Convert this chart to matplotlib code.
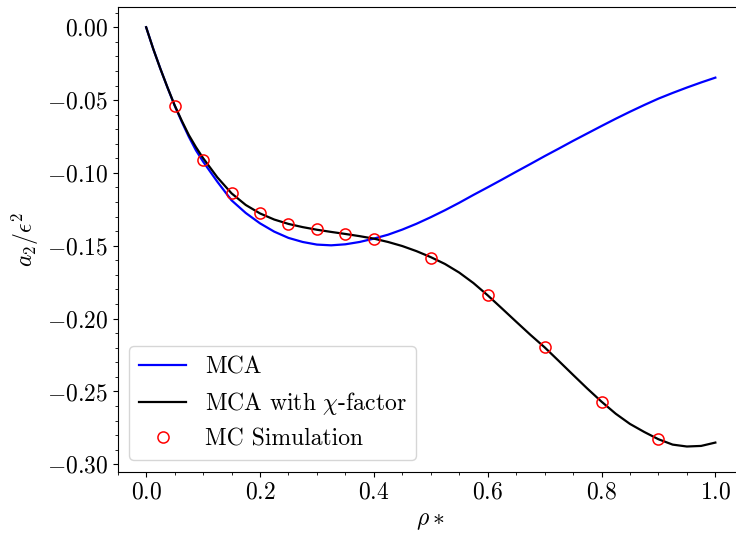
import numpy as np
import matplotlib
matplotlib.use('Agg')
import matplotlib.pyplot as plt
from matplotlib.ticker import MultipleLocator

plt.rcParams['font.family'] = 'serif'
plt.rcParams['font.serif'] = ['cmr10']
plt.rcParams['mathtext.fontset'] = 'cm'
plt.rcParams['axes.formatter.use_mathtext'] = True
plt.rcParams['font.size'] = 17

# density grid the two theory curves are tabulated on
rho = [0.0, 0.0125, 0.025, 0.0375, 0.05, 0.0625, 0.075, 0.0875, 0.1, 0.125, 0.15,
       0.175, 0.2, 0.225, 0.25, 0.275, 0.3, 0.325, 0.35, 0.375, 0.4, 0.425, 0.45,
       0.475, 0.5, 0.525, 0.55, 0.575, 0.6, 0.625, 0.65, 0.675, 0.7, 0.725, 0.75,
       0.775, 0.8, 0.825, 0.85, 0.875, 0.9, 0.925, 0.95, 0.975, 1.0]

# MCA
a2_mca = [0.0, -0.0149, -0.0285, -0.0414, -0.0537, -0.0648, -0.0752, -0.0845, -0.0922,
          -0.1060, -0.1188, -0.1275, -0.1346, -0.1403, -0.1446, -0.1474, -0.1492,
          -0.1497, -0.1490, -0.1474, -0.1451, -0.1424, -0.1389, -0.1349, -0.1304,
          -0.1256, -0.1205, -0.1151, -0.1099, -0.1046, -0.0992, -0.0939, -0.0885,
          -0.0833, -0.0780, -0.0729, -0.0678, -0.0628, -0.0580, -0.0534, -0.0490,
          -0.0451, -0.0414, -0.0379, -0.0346]

# MCA with chi-factor
a2_chi = [0.0, -0.0149, -0.0285, -0.0413, -0.0535, -0.0641, -0.0740, -0.0823, -0.0898,
          -0.1030, -0.1140, -0.1220, -0.1278, -0.1320, -0.1350, -0.1372, -0.1390,
          -0.1405, -0.1419, -0.1434, -0.1451, -0.1474, -0.1502, -0.1537, -0.1578,
          -0.1625, -0.1684, -0.1756, -0.1840, -0.1930, -0.2021, -0.2111, -0.2197,
          -0.2291, -0.2386, -0.2480, -0.2570, -0.2653, -0.2723, -0.2778, -0.2828,
          -0.2865, -0.2878, -0.2874, -0.2851]

# MC simulation points
x_mc = [0.05, 0.1, 0.15, 0.2, 0.25, 0.3, 0.35, 0.4, 0.5, 0.6, 0.7, 0.8, 0.9]
a2_mc = [-0.0540, -0.0911, -0.1140, -0.1277, -0.1352, -0.1387, -0.1419, -0.1451,
         -0.1582, -0.1840, -0.2197, -0.2570, -0.2828]

fig = plt.figure(figsize=(7.36, 5.36), dpi=100)
ax = fig.add_axes([0.1599, 0.1194, 0.8507, 0.8681])

ax.plot(rho, a2_mca, color='b', lw=1.6, label='MCA')
ax.plot(rho, a2_chi, color='k', lw=1.6, label=r'MCA with $\chi$-factor')
ax.plot(x_mc, a2_mc, 'o', mfc='none', mec='r', ms=8, mew=1.1, label='MC Simulation')

ax.set_xlim(-0.05, 1.05)
ax.set_ylim(-0.3053, 0.0141)
ax.xaxis.set_minor_locator(MultipleLocator(0.05))
ax.yaxis.set_minor_locator(MultipleLocator(0.01))
ax.set_xlabel(r'$\rho*$')
ax.set_ylabel(r'$a_2/\epsilon^2$')
ax.legend(loc='lower left')

fig.savefig('out.png', dpi=100)
